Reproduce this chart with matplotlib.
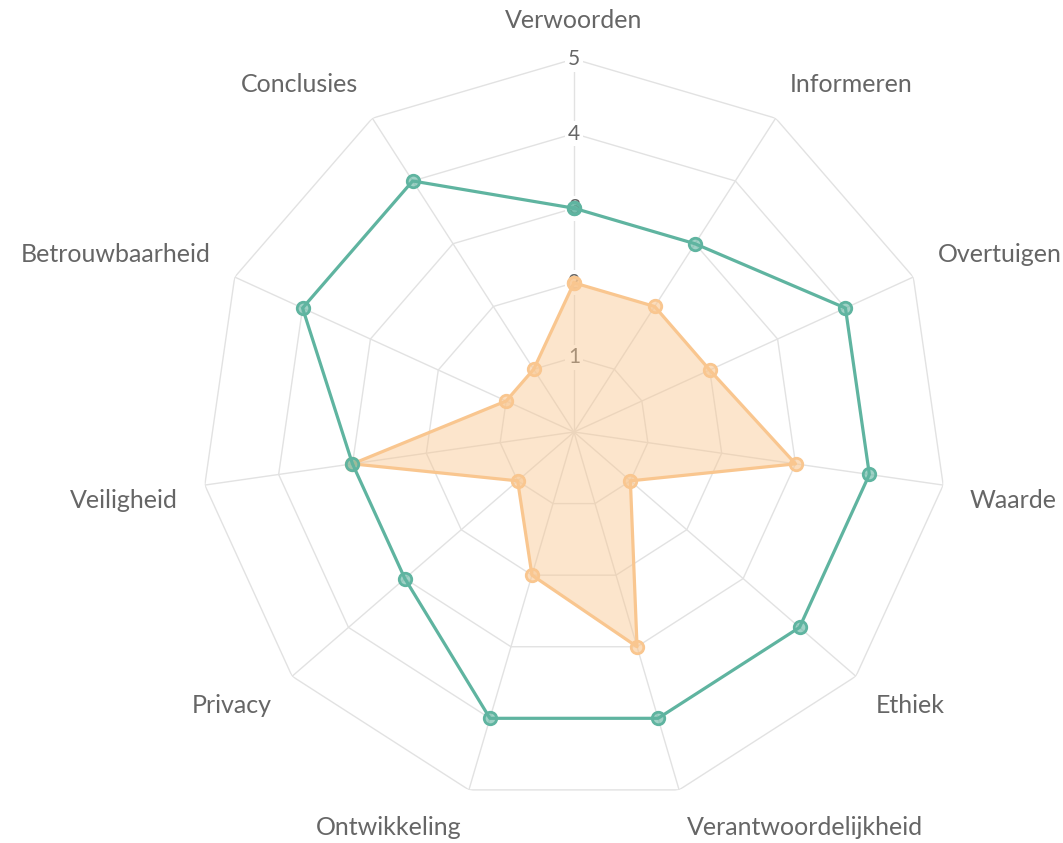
import matplotlib
matplotlib.use('Agg')
import matplotlib.pyplot as plt
import numpy as np

# categories, clockwise from the top
categories = ['Verwoorden', 'Informeren', 'Overtuigen', 'Waarde', 'Ethiek',
              'Verantwoordelijkheid', 'Ontwikkeling', 'Privacy', 'Veiligheid',
              'Betrouwbaarheid', 'Conclusies']
green_values = [3, 3, 4, 4, 4, 4, 4, 3, 3, 4, 4]
orange_values = [2, 2, 2, 3, 1, 3, 2, 1, 3, 1, 1]
ticks = [1, 2, 3, 4, 5]

green = '#5fb4a0'
orange = '#f9c68f'
grid_col = '#e2e2e2'
text_col = '#666666'

plt.rcParams['font.family'] = ['Lato', 'DejaVu Sans']

n = len(categories)
angles = np.arange(n) * 2 * np.pi / n
closed = np.append(angles, angles[0])

fig = plt.figure(figsize=(10.63, 8.43), dpi=100)
R = 373
ax = fig.add_axes([(574 - R) / 1063, (843 - 432 - R) / 843, 2 * R / 1063, 2 * R / 843],
                  projection='polar')
ax.set_theta_zero_location('N')
ax.set_theta_direction(-1)
ax.set_ylim(0, 5)
ax.grid(False)
ax.set_xticks([])
ax.set_yticks([])
ax.spines['polar'].set_visible(False)

# polygon grid
for t in ticks:
    ax.plot(closed, [t] * (n + 1), color=grid_col, lw=1, zorder=1)
for a in angles:
    ax.plot([a, a], [0, 5], color=grid_col, lw=1, zorder=1)

# tick labels on the top axis
for t in ticks:
    ax.text(0, t, str(t), ha='center', va='center', fontsize=15, color=text_col,
            zorder=2, bbox=dict(boxstyle='square,pad=0.12', fc='white', ec='none'))

# data
ax.fill(closed, orange_values + orange_values[:1], color=orange, alpha=0.45, lw=0, zorder=3)
ax.plot(closed, orange_values + orange_values[:1], color=orange, lw=2.3, zorder=4,
        marker='o', markersize=9, markerfacecolor=(249/255, 198/255, 143/255, 0.6),
        markeredgecolor=orange, markeredgewidth=2)
ax.plot(closed, green_values + green_values[:1], color=green, lw=2.3, zorder=5,
        marker='o', markersize=9, markerfacecolor=(95/255, 180/255, 160/255, 0.6),
        markeredgecolor=green, markeredgewidth=2)

# category labels
lab_r = 5.36
for a, name in zip(angles, categories):
    s = np.sin(a)
    c = np.cos(a)
    if abs(s) < 0.05:
        ha = 'center'
    elif s > 0:
        ha = 'left'
    else:
        ha = 'right'
    if c > 0.05:
        va = 'bottom'
    elif c < -0.05:
        va = 'top'
    else:
        va = 'center'
    ax.text(a, lab_r, name, ha=ha, va=va, fontsize=18, color=text_col, clip_on=False)

fig.savefig('out.png')
